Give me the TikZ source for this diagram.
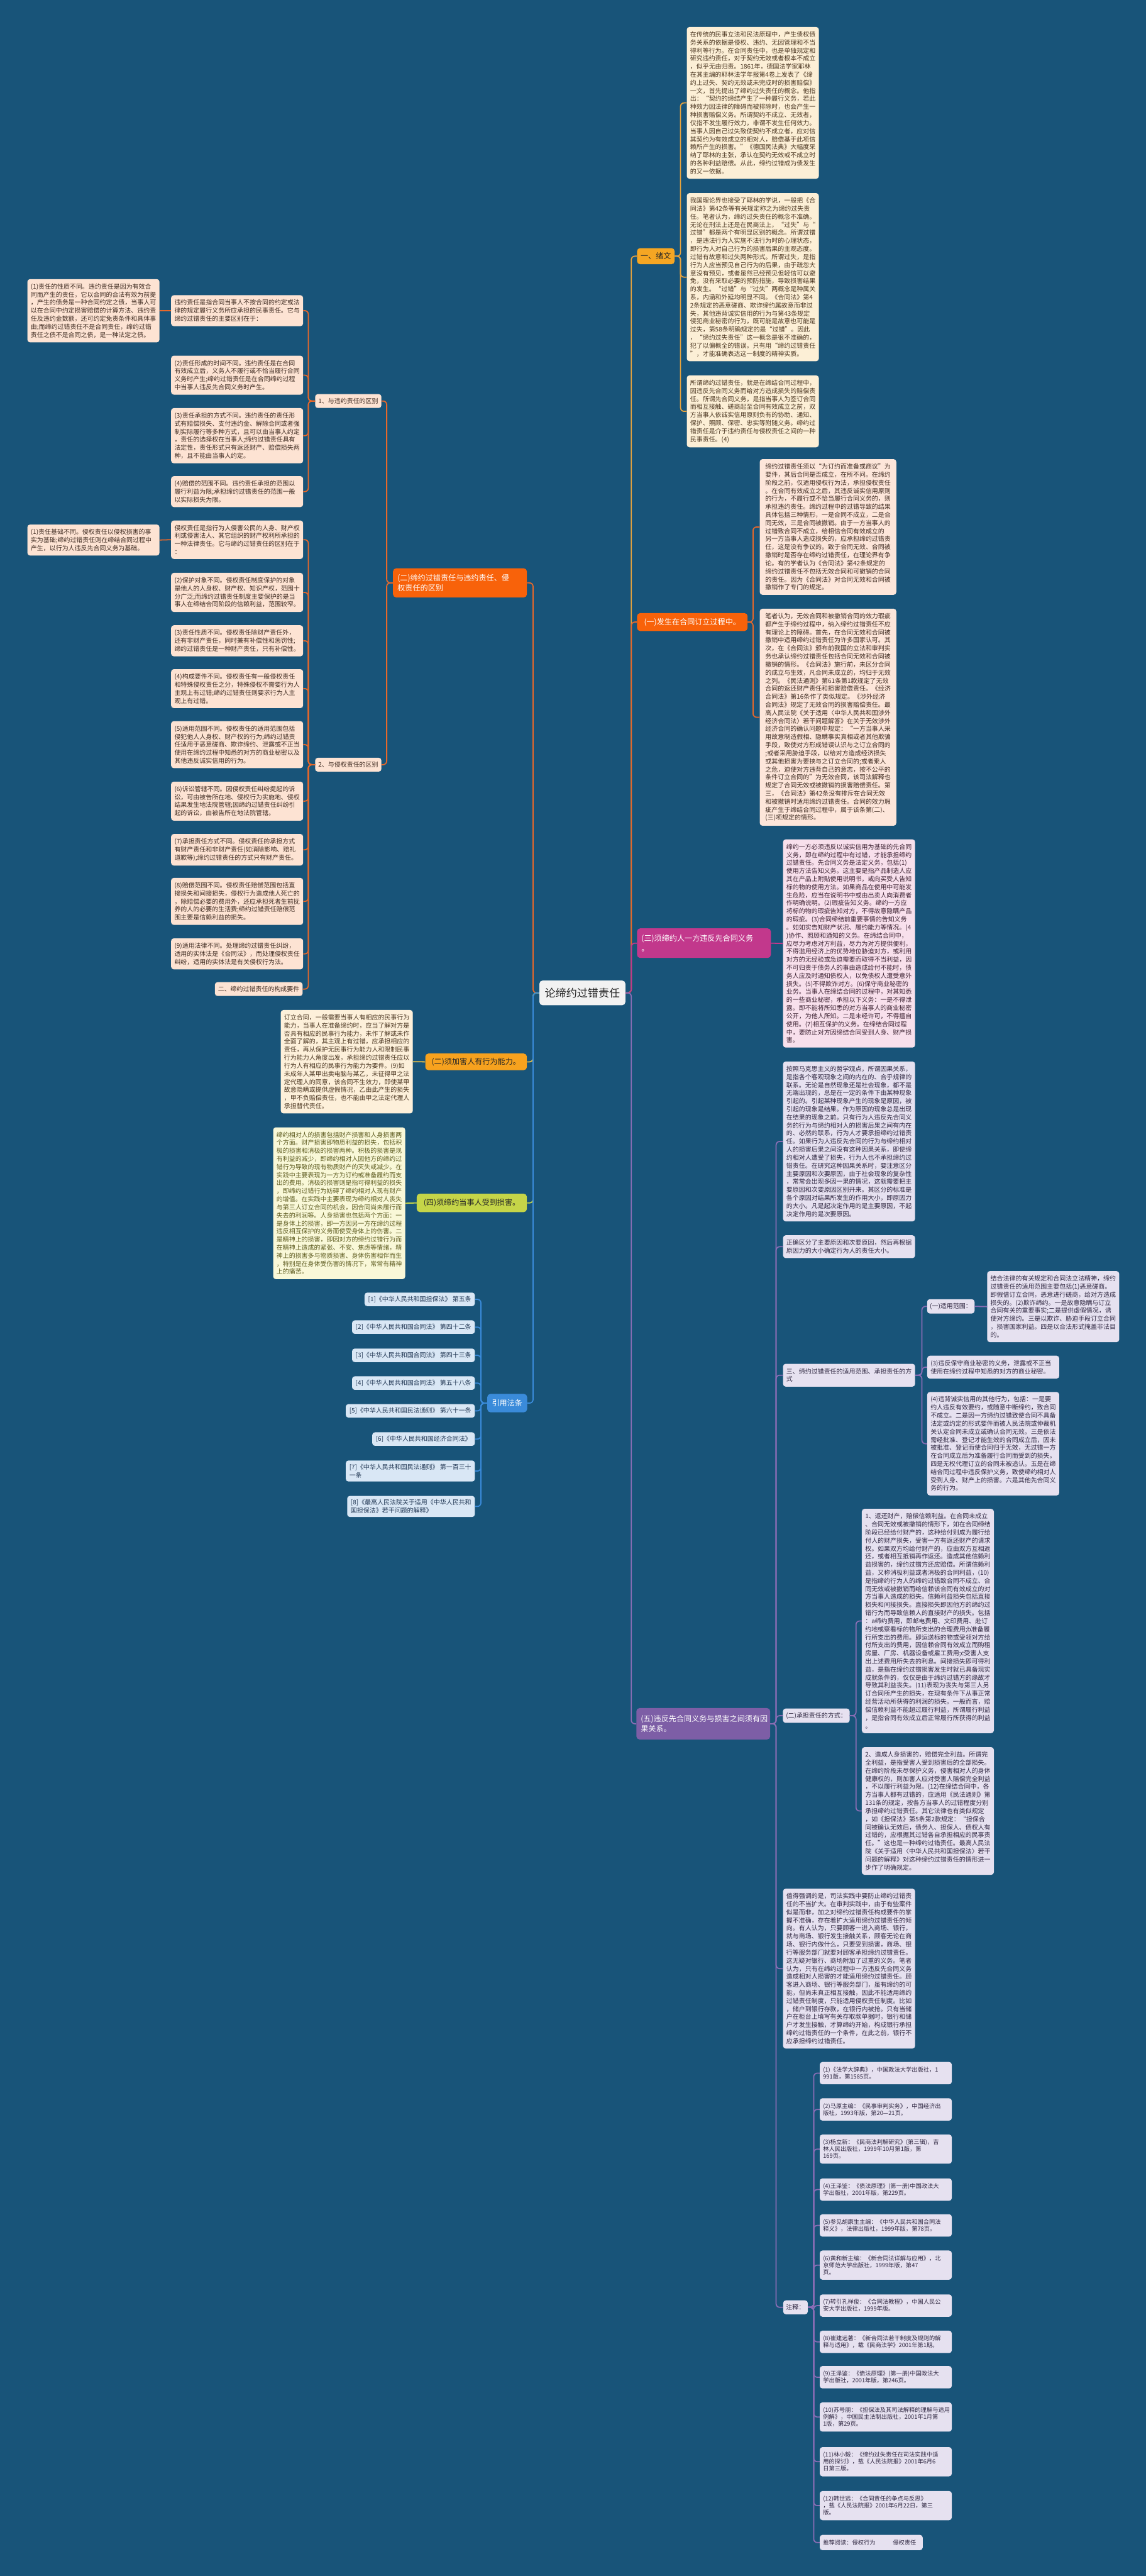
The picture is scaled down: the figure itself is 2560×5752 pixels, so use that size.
\documentclass[tikz,border=0pt]{standalone}
\usepackage{fontspec}
\setmainfont{Noto Sans CJK SC}
\usetikzlibrary{calc}
\definecolor{bg}{HTML}{185479}
\definecolor{cAf}{HTML}{F5A623}\definecolor{cAl}{HTML}{E8A33D}\definecolor{cAb}{HTML}{FCEFD6}\definecolor{cAt}{HTML}{4A3520}
\definecolor{cBf}{HTML}{F8620A}\definecolor{cBl}{HTML}{E8682A}\definecolor{cBb}{HTML}{FDE6DA}\definecolor{cBt}{HTML}{3E2A20}
\definecolor{cCf}{HTML}{C2388C}\definecolor{cCb}{HTML}{F8E0EC}\definecolor{cCt}{HTML}{3A2030}
\definecolor{cDf}{HTML}{7D5EA6}\definecolor{cDl}{HTML}{8A6DB5}\definecolor{cDb}{HTML}{E6E1F0}\definecolor{cDt}{HTML}{2E2640}
\definecolor{cEb}{HTML}{FDE3D3}
\definecolor{cFf}{HTML}{F7A21E}\definecolor{cFl}{HTML}{E3BE4A}\definecolor{cFb}{HTML}{FDF0DA}
\definecolor{cGf}{HTML}{C5D548}\definecolor{cGb}{HTML}{F9F8D8}\definecolor{cGt}{HTML}{5C5A1E}
\definecolor{cHf}{HTML}{3A8BDA}\definecolor{cHb}{HTML}{D9E7F5}\definecolor{cHt}{HTML}{1F3552}
\tikzset{
  blk/.style={anchor=north west, align=left, text width=280pt, inner xsep=7.5pt, inner ysep=10pt,
    rounded corners=6pt, font=\fontsize{14pt}{18pt}\selectfont},
  lbl/.style={align=center, inner sep=0pt, rounded corners=6pt, font=\fontsize{14pt}{17pt}\selectfont},
  brn/.style={align=center, inner sep=0pt, rounded corners=7pt, font=\fontsize{17pt}{22pt}\selectfont},
  brl/.style={align=left, inner xsep=10pt, inner ysep=0pt, rounded corners=7pt, font=\fontsize{17pt}{22pt}\selectfont},
  note/.style={anchor=north west, align=left, text width=280pt, inner xsep=7.5pt, inner ysep=11pt,
    rounded corners=6pt, font=\fontsize{13pt}{15.5pt}\selectfont, fill=cDb, text=cDt},
  law/.style={anchor=north east, align=left, inner xsep=8pt, inner ysep=8pt,
    rounded corners=6pt, font=\fontsize{14pt}{18pt}\selectfont, fill=cHb, text=cHt},
  ln/.style={line width=2.5pt, rounded corners=8pt},
  gA/.style={fill=cAb, text=cAt}, gB/.style={fill=cBb, text=cBt}, gC/.style={fill=cCb, text=cCt},
  gD/.style={fill=cDb, text=cDt}, gE/.style={fill=cEb, text=cBt}, gF/.style={fill=cFb, text=cAt},
  gG/.style={fill=cGb, text=cGt},
}
\begin{document}
\begin{tikzpicture}[x=1pt,y=-1pt]
\fill[bg] (0,0) rectangle (2560,5752);
\useasboundingbox (0,0) rectangle (2560,5752);

% central
\node[brn, fill=black!5, text=black!85, minimum width=192pt, minimum height=55pt, font=\fontsize{24pt}{28pt}\selectfont] (c) at (1301,2217) {论缔约过错责任};

% ---------------- right branches
\node[brn, fill=cAf, text=black!85, minimum width=84pt, minimum height=36pt] (xw) at (1465,572) {一、绪文};
\node[brn, fill=cBf, text=white, minimum width=247pt, minimum height=40pt] (fs) at (1546.5,1389) {(一)发生在合同订立过程中。};
\node[brl, fill=cCf, text=white, text width=279pt, minimum height=66pt] (sa) at (1572.5,2106) {(三)须缔约人一方违反先合同义务\\。};
\node[brl, fill=cDf, text=white, text width=279pt, minimum height=70pt] (wu) at (1571,3849) {(五)违反先合同义务与损害之间须有因\\果关系。};

\draw[ln, cAl] (c.east) -- ++(13,0) |- (xw.west);
\draw[ln, cBl] (c.east) -- ++(13,0) |- (fs.west);
\draw[ln, cCf] (c.east) -- ++(13,0) |- (sa.west);
\draw[ln, cDl] (c.east) -- ++(13,0) |- (wu.west);

% 绪文 children
\node[blk, gA] (xw1) at (1534,60) {在传统的民事立法和民法原理中，产生债权债\\
务关系的依据是侵权、违约、无因管理和不当\\
得利等行为。在合同责任中，也是单独规定和\\
研究违约责任，对于契约无效或者根本不成立\\
，似乎无由归责。1861年，德国法学家耶林\\
在其主编的耶林法学年报第4卷上发表了《缔\\
约上过失、契约无效或未完成时的损害赔偿》\\
一文，首先提出了缔约过失责任的概念。他指\\
出：“契约的缔结产生了一种履行义务，若此\\
种效力因法律的障碍而被排除时，也会产生一\\
种损害赔偿义务。所谓契约不成立、无效者，\\
仅指不发生履行效力，非谓不发生任何效力。\\
当事人因自己过失致使契约不成立者，应对信\\
其契约为有效成立的相对人，赔偿基于此项信\\
赖所产生的损害。”《德国民法典》大幅度采\\
纳了耶林的主张，承认在契约无效或不成立时\\
的各种利益赔偿。从此，缔约过错成为债发生\\
的又一依据。};
\node[blk, gA] (xw2) at (1534,431) {我国理论界也接受了耶林的学说，一般把《合\\
同法》第42条等有关规定称之为缔约过失责\\
任。笔者认为，缔约过失责任的概念不准确。\\
无论在刑法上还是在民商法上，“过失”与“\\
过错”都是两个有明显区别的概念。所谓过错\\
，是违法行为人实施不法行为时的心理状态，\\
即行为人对自己行为的损害后果的主观态度。\\
过错有故意和过失两种形式。所谓过失，是指\\
行为人应当预见自己行为的后果，由于疏忽大\\
意没有预见，或者虽然已经预见但轻信可以避\\
免，没有采取必要的预防措施，导致损害结果\\
的发生。“过错”与“过失”两概念是种属关\\
系，内涵和外延均明显不同。《合同法》第4\\
2条规定的恶意磋商、欺诈缔约属故意而非过\\
失，其他违背诚实信用的行为与第43条规定\\
侵犯商业秘密的行为，既可能是故意也可能是\\
过失，第58条明确规定的是“过错”。因此\\
，“缔约过失责任”这一概念是很不准确的，\\
犯了以偏概全的错误。只有用“缔约过错责任\\
”，才能准确表达这一制度的精神实质。};
\node[blk, gA] (xw3) at (1534,838) {所谓缔约过错责任，就是在缔结合同过程中，\\
因违反先合同义务而给对方造成损失的赔偿责\\
任。所谓先合同义务，是指当事人为签订合同\\
而相互接触、磋商起至合同有效成立之前，双\\
方当事人依诚实信用原则负有的协助、通知、\\
保护、照顾、保密、忠实等附随义务。缔约过\\
错责任是介于违约责任与侵权责任之间的一种\\
民事责任。(4)};
\foreach \n in {xw1,xw2,xw3} \draw[ln, cAl] (xw.east) -- ++(13,0) |- (\n.west);

% 发生 children
\node[blk, gB, inner xsep=12.5pt] (fs1) at (1697,1025) {缔约过错责任须以“为订约而准备或商议”为\\
要件，其后合同是否成立，在所不问。在缔约\\
阶段之前，仅适用侵权行为法，承担侵权责任\\
。在合同有效成立之后，其违反诚实信用原则\\
的行为，不履行或不恰当履行合同义务的，则\\
承担违约责任。缔约过程中的过错导致的结果\\
具体包括三种情形，一是合同不成立，二是合\\
同无效，三是合同被撤销。由于一方当事人的\\
过错致合同不成立，给相信合同有效成立的\\
另一方当事人造成损失的，应承担缔约过错责\\
任，这是没有争议的。致于合同无效、合同被\\
撤销时是否存在缔约过错责任，在理论界有争\\
论。有的学者认为《合同法》第42条规定的\\
缔约过错责任不包括无效合同和可撤销的合同\\
的责任。因为《合同法》对合同无效和合同被\\
撤销作了专门的规定。};
\node[blk, gB, inner xsep=12.5pt] (fs2) at (1697,1359) {笔者认为，无效合同和被撤销合同的效力瑕疵\\
都产生于缔约过程中，纳入缔约过错责任不应\\
有理论上的障碍。首先，在合同无效和合同被\\
撤销中适用缔约过错责任为许多国家认可。其\\
次，在《合同法》颁布前我国的立法和审判实\\
务也承认缔约过错责任包括合同无效和合同被\\
撤销的情形。《合同法》施行前，未区分合同\\
的成立与生效，凡合同未成立的，均归于无效\\
之列。《民法通则》第61条第1款规定了无效\\
合同的返还财产责任和损害赔偿责任。《经济\\
合同法》第16条作了类似规定。《涉外经济\\
合同法》规定了无效合同的损害赔偿责任。最\\
高人民法院《关于适用〈中华人民共和国涉外\\
经济合同法〉若干问题解答》在关于无效涉外\\
经济合同的确认问题中规定：“一方当事人采\\
用故意制造假相、隐瞒事实真相或者其他欺骗\\
手段，致使对方形成错误认识与之订立合同的\\
;或者采用胁迫手段，以给对方造成经济损失\\
或其他损害为要挟与之订立合同的;或者乘人\\
之危，迫使对方违背自己的意志，按不公平的\\
条件订立合同的”为无效合同，该司法解释也\\
规定了合同无效或被撤销的损害赔偿责任。第\\
三，《合同法》第42条没有排斥在合同无效\\
和被撤销时适用缔约过错责任。合同的效力瑕\\
疵产生于缔结合同过程中，属于该条第(二)、\\
(三)项规定的情形。};
\foreach \n in {fs1,fs2} \draw[ln, cBl] (fs.east) -- ++(12,0) |- (\n.west);

% (三) child
\node[blk, gC] (sa1) at (1749,1874) {缔约一方必须违反以诚实信用为基础的先合同\\
义务，即在缔约过程中有过错，才能承担缔约\\
过错责任。先合同义务是法定义务，包括(1)\\
使用方法告知义务。这主要是指产品制造人应\\
其在产品上附贴使用说明书，或向买受人告知\\
标的物的使用方法。如果商品在使用中可能发\\
生危险，应当在说明书中或由出卖人向消费者\\
作明确说明。(2)瑕疵告知义务。缔约一方应\\
将标的物的瑕疵告知对方，不得故意隐瞒产品\\
的瑕疵。(3)合同缔结前重要事情的告知义务\\
。如如实告知财产状况、履约能力等情况。(4\\
)协作、照顾和通知的义务。在缔结合同中，\\
应尽力考虑对方利益，尽力为对方提供便利，\\
不得滥用经济上的优势地位胁迫对方，或利用\\
对方的无经验或急迫需要而取得不当利益，因\\
不可归责于债务人的事由造成给付不能时，债\\
务人应及时通知债权人，以免债权人遭受意外\\
损失。(5)不得欺诈对方。(6)保守商业秘密的\\
业务。当事人在缔结合同的过程中，对其知悉\\
的一些商业秘密，承担以下义务：一是不得泄\\
露。即不能将所知悉的对方当事人的商业秘密\\
公开，为他人所知。二是未经许可，不得擅自\\
使用。(7)相互保护的义务。在缔结合同过程\\
中，要防止对方因缔结合同受到人身、财产损\\
害。};
\draw[ln, cCf] (sa.east) -- (sa1.west);

% (五) children
\node[blk, gD] (w1) at (1749,2370) {按照马克思主义的哲学观点，所谓因果关系，\\
是指各个客观现象之间的内在的、合乎规律的\\
联系。无论是自然现象还是社会现象，都不是\\
无端出现的，总是在一定的条件下由某种现象\\
引起的。引起某种现象产生的现象是原因，被\\
引起的现象是结果。作为原因的现象总是出现\\
在结果的现象之前。只有行为人违反先合同义\\
务的行为与缔约相对人的损害后果之间有内在\\
的、必然的联系，行为人才要承担缔约过错责\\
任。如果行为人违反先合同的行为与缔约相对\\
人的损害后果之间没有这种因果关系，即使缔\\
约相对人遭受了损失，行为人也不承担缔约过\\
错责任。在研究这种因果关系时，要注意区分\\
主要原因和次要原因，由于社会现象的复杂性\\
，常常会出现多因一果的情况，这就需要把主\\
要原因和次要原因区别开来。其区分的标准是\\
各个原因对结果所发生的作用大小，即原因力\\
的大小。凡是起决定作用的是主要原因，不起\\
决定作用的是次要原因。};
\node[blk, gD] (w2) at (1749,2758) {正确区分了主要原因和次要原因，然后再根据\\
原因力的大小确定行为人的责任大小。};
\node[blk, gD] (w3) at (1749,3045) {三、缔约过错责任的适用范围、承担责任的方\\
式};
\node[lbl, gD, minimum width=106pt, minimum height=32pt] (s1) at (2124,2917) {(一)适用范围：};
\node[blk, gD] (s1a) at (2205,2838) {结合法律的有关规定和合同法立法精神，缔约\\
过错责任的适用范围主要包括(1)恶意磋商。\\
即假借订立合同，恶意进行磋商，给对方造成\\
损失的。(2)欺诈缔约。一是故意隐瞒与订立\\
合同有关的重要事实;二是提供虚假情况，诱\\
使对方缔约。三是以欺诈、胁迫手段订立合同\\
，损害国家利益。四是以合法形式掩盖非法目\\
的。};
\node[blk, gD] (s2) at (2071,3027) {(3)违反保守商业秘密的义务，泄露或不正当\\
使用在缔约过程中知悉的对方的商业秘密。};
\node[blk, gD] (s3) at (2071,3108) {(4)违背诚实信用的其他行为，包括：一是要\\
约人违反有效要约，或随意中断缔约，致合同\\
不成立。二是因一方缔约过错致使合同不具备\\
法定或约定的形式要件而被人民法院或仲裁机\\
关认定合同未成立或确认合同无效。三是依法\\
需经批准、登记才能生效的合同成立后，因未\\
被批准、登记而使合同归于无效，无过错一方\\
在合同成立后为准备履行合同而受到的损失。\\
四是无权代理订立的合同未被追认。五是在缔\\
结合同过程中违反保护义务，致使缔约相对人\\
受到人身、财产上的损害。六是其他先合同义\\
务的行为。};
\node[lbl, gD, minimum width=149pt, minimum height=32pt] (w4) at (1823.5,3831) {(二)承担责任的方式：};
\node[blk, gD] (c1) at (1925,3369) {1、返还财产，赔偿信赖利益。在合同未成立\\
、合同无效或被撤销的情形下，如在合同缔结\\
阶段已经给付财产的，这种给付则成为履行给\\
付人的财产损失，受害一方有返还财产的请求\\
权。如果双方均给付财产的，应由双方互相返\\
还，或者相互抵销再作返还。造成其他信赖利\\
益损害的，缔约过错方还应赔偿。所谓信赖利\\
益，又称消极利益或者消极的合同利益，(10)\\
是指缔约行为人的缔约过错致合同不成立、合\\
同无效或被撤销而给信赖该合同有效成立的对\\
方当事人造成的损失。信赖利益损失包括直接\\
损失和间接损失。直接损失即因他方的缔约过\\
错行为而导致信赖人的直接财产的损失。包括\\
：a缔约费用，即邮电费用、文印费用、赴订\\
约地或察看标的物所支出的合理费用;b准备履\\
行所支出的费用。即运送标的物或受领对方给\\
付所支出的费用，因信赖合同有效成立而购租\\
房屋、厂房、机器设备或雇工费用;c受害人支\\
出上述费用所失去的利息。间接损失即可得利\\
益，是指在缔约过错损害发生时就已具备现实\\
成就条件的，仅仅是由于缔约过错方的缘故才\\
导致其利益丧失。(11)表现为丧失与第三人另\\
订合同所产生的损失，在现有条件下从事正常\\
经营活动所获得的利润的损失。一般而言，赔\\
偿信赖利益不能超过履行利益，所谓履行利益\\
，是指合同有效成立后正常履行所获得的利益\\
。};
\node[blk, gD] (c2) at (1925,3901) {2、造成人身损害的，赔偿完全利益。所谓完\\
全利益，是指受害人受到损害后的全部损失。\\
在缔约阶段未尽保护义务，侵害相对人的身体\\
健康权的，则加害人应对受害人赔偿完全利益\\
，不以履行利益为限。(12)在缔结合同中，各\\
方当事人都有过错的，应适用《民法通则》第\\
131条的规定，按各方当事人的过错程度分别\\
承担缔约过错责任。其它法律也有类似规定\\
，如《担保法》第5条第2款规定：“担保合\\
同被确认无效后，债务人、担保人、债权人有\\
过错的，应根据其过错各自承担相应的民事责\\
任。”这也是一种缔约过错责任。最高人民法\\
院《关于适用〈中华人民共和国担保法〉若干\\
问题的解释》对这种缔约过错责任的情形进一\\
步作了明确规定。};
\node[blk, gD] (w5) at (1749,4217) {值得强调的是，司法实践中要防止缔约过错责\\
任的不当扩大。在审判实践中，由于有些案件\\
似是而非，加之对缔约过错责任构成要件的掌\\
握不准确，存在着扩大适用缔约过错责任的倾\\
向。有人认为，只要顾客一进入商场、银行，\\
就与商场、银行发生接触关系，顾客无论在商\\
场、银行内做什么，只要受到损害，商场、银\\
行等服务部门就要对顾客承担缔约过错责任。\\
这无疑对银行、商场附加了过重的义务。笔者\\
认为，只有在缔约过程中一方违反先合同义务\\
造成相对人损害的才能适用缔约过错责任。顾\\
客进入商场、银行等服务部门，虽有缔约的可\\
能，但尚未真正相互接触，因此不能适用缔约\\
过错责任制度，只能适用侵权责任制度。比如\\
，储户到银行存款，在银行内被抢。只有当储\\
户在柜台上填写有关存取款单据时，银行和储\\
户才发生接触，才算缔约开始，构成银行承担\\
缔约过错责任的一个条件，在此之前，银行不\\
应承担缔约过错责任。};
\node[lbl, gD, minimum width=55pt, minimum height=31pt] (w6) at (1777,5152) {注释：};
\foreach \n in {w1,w2,w3,w4,w5,w6} \draw[ln, cDl] (wu.east) -- ++(13,0) |- (\n.west);
\foreach \n in {s1,s2,s3} \draw[ln, cDl] (w3.east) -- ++(15,0) |- (\n.west);
\draw[ln, cDl] (s1.east) -- (s1a.west);
\foreach \n in {c1,c2} \draw[ln, cDl] (w4.east) -- ++(14,0) |- (\n.west);

% notes
\node[note] (n1) at (1831,4604) {(1)《法学大辞典》，中国政法大学出版社，1\\991版，第1585页。};
\node[note] (n2) at (1831,4685) {(2)马原主编：《民事审判实务》，中国经济出\\版社，1993年版，第20—21页。};
\node[note] (n3) at (1831,4766) {(3)杨立新：《民商法判解研究》(第三辑)，吉\\林人民出版社，1999年10月第1版，第\\169页。};
\node[note] (n4) at (1831,4864) {(4)王泽鉴：《债法原理》(第一册)中国政法大\\学出版社，2001年版，第229页。};
\node[note] (n5) at (1831,4944) {(5)参见胡康生主编：《中华人民共和国合同法\\释义》，法律出版社，1999年版，第78页。};
\node[note] (n6) at (1831,5025) {(6)黄和新主编：《新合同法详解与应用》，北\\京师范大学出版社，1999年版，第47\\页。};
\node[note] (n7) at (1831,5123) {(7)转引孔祥俊：《合同法教程》，中国人民公\\安大学出版社，1999年版。};
\node[note] (n8) at (1831,5204) {(8)崔建远著：《新合同法若干制度及规则的解\\释与适用》，载《民商法学》2001年第1期。};
\node[note] (n9) at (1831,5283) {(9)王泽鉴：《债法原理》(第一册)中国政法大\\学出版社，2001年版，第246页。};
\node[note] (n10) at (1831,5364) {(10)苏号朋：《担保法及其司法解释的理解与适用\\例解》，中国民主法制出版社，2001年1月第\\1版，第29页。};
\node[note] (n11) at (1831,5464) {(11)林小毅：《缔约过失责任在司法实践中适\\用的探讨》，载《人民法院报》2001年6月6\\日第三版。};
\node[note] (n12) at (1831,5562) {(12)韩世远：《合同责任的争点与反思》\\，载《人民法院报》2001年6月22日，第三\\版。};
\node[note, text width=215pt] (n13) at (1831,5660) {推荐阅读：侵权行为\hspace{3em}侵权责任};
\foreach \n in {n1,n2,n3,n4,n5,n6,n7,n8,n9,n10,n11,n12,n13} \draw[ln, cDl] (w6.east) -- ++(13,0) |- (\n.west);

% ---------------- left branches
\node[brl, fill=cBf, text=white, text width=279pt, minimum height=65pt] (qb) at (1027.5,1301.5) {(二)缔约过错责任与违约责任、侵\\权责任的区别};
\node[brn, fill=cFf, text=black!85, minimum width=227pt, minimum height=37pt] (jh) at (1063.5,2371) {(二)须加害人有行为能力。};
\node[brn, fill=cGf, text=black!85, minimum width=246pt, minimum height=41pt] (ss) at (1054,2686) {(四)须缔约当事人受到损害。};
\node[brn, fill=cHf, text=white, minimum width=89pt, minimum height=41pt] (yf) at (1133,3133) {引用法条};

\draw[ln, cBl] (c.west) -- ++(-14,0) |- (qb.east);
\draw[ln, cFl] (c.west) -- ++(-14,0) |- (jh.east);
\draw[ln, cGf] (c.west) -- ++(-14,0) |- (ss.east);
\draw[ln, cHf] (c.west) -- ++(-14,0) |- (yf.east);

\node[lbl, gE, minimum width=148pt, minimum height=31pt] (q1) at (778,895.5) {1、与违约责任的区别};
\node[lbl, gE, minimum width=148pt, minimum height=31pt] (q2) at (778,1707.5) {2、与侵权责任的区别};
\foreach \n in {q1,q2} \draw[ln, cBl] (qb.west) -- ++(-14,0) |- (\n.east);

\node[blk, gE] (a0) at (382,659) {违约责任是指合同当事人不按合同的约定或法\\
律的规定履行义务所应承担的民事责任。它与\\
缔约过错责任的主要区别在于：};
\node[blk, gE] (a1) at (61,623) {(1)责任的性质不同。违约责任是因为有效合\\
同而产生的责任，它以合同的合法有效为前提\\
，产生的债务是一种合同约定之债，当事人可\\
以在合同中约定损害赔偿的计算方法、违约责\\
任及违约金数额，还可约定免责条件和具体事\\
由;而缔约过错责任不是合同责任，缔约过错\\
责任之债不是合同之债，是一种法定之债。};
\node[blk, gE] (a2) at (382,794) {(2)责任形成的时间不同。违约责任是在合同\\
有效成立后，义务人不履行或不恰当履行合同\\
义务时产生;缔约过错责任是在合同缔约过程\\
中当事人违反先合同义务时产生。};
\node[blk, gE] (a3) at (382,911) {(3)责任承担的方式不同。违约责任的责任形\\
式有赔偿损失、支付违约金、解除合同或者强\\
制实际履行等多种方式，且可以由当事人约定\\
，责任的选择权在当事人;缔约过错责任具有\\
法定性，责任形式只有返还财产、赔偿损失两\\
种，且不能由当事人约定。};
\node[blk, gE] (a4) at (382,1063) {(4)赔偿的范围不同。违约责任承担的范围以\\
履行利益为限;承担缔约过错责任的范围一般\\
以实际损失为限。};
\foreach \n in {a0,a2,a3,a4} \draw[ln, cBl] (q1.west) -- ++(-15,0) |- (\n.east);
\draw[ln, cBl] (a0.west) -- (a1.east);

\node[blk, gE] (b0) at (382,1162) {侵权责任是指行为人侵害公民的人身、财产权\\
利或侵害法人、其它组织的财产权利所承担的\\
一种法律责任。它与缔约过错责任的区别在于\\
：};
\node[blk, gE] (b1) at (61,1171) {(1)责任基础不同。侵权责任以侵权损害的事\\
实为基础;缔约过错责任则在缔结合同过程中\\
产生，以行为人违反先合同义务为基础。};
\node[blk, gE] (b2) at (382,1279) {(2)保护对象不同。侵权责任制度保护的对象\\
是他人的人身权、财产权、知识产权，范围十\\
分广泛;而缔约过错责任制度主要保护的是当\\
事人在缔结合同阶段的信赖利益，范围较窄。};
\node[blk, gE] (b3) at (382,1396) {(3)责任性质不同。侵权责任除财产责任外，\\
还有非财产责任，同时兼有补偿性和惩罚性;\\
缔约过错责任是一种财产责任，只有补偿性。};
\node[blk, gE] (b4) at (382,1494) {(4)构成要件不同。侵权责任有一般侵权责任\\
和特殊侵权责任之分，特殊侵权不需要行为人\\
主观上有过错;缔约过错责任则要求行为人主\\
观上有过错。};
\node[blk, gE] (b5) at (382,1610) {(5)适用范围不同。侵权责任的适用范围包括\\
侵犯他人人身权、财产权的行为;缔约过错责\\
任适用于恶意磋商、欺诈缔约、泄露或不正当\\
使用在缔约过程中知悉的对方的商业秘密以及\\
其他违反诚实信用的行为。};
\node[blk, gE] (b6) at (382,1745) {(6)诉讼管辖不同。因侵权责任纠纷提起的诉\\
讼，可由被告所在地、侵权行为实施地、侵权\\
结果发生地法院管辖;因缔约过错责任纠纷引\\
起的诉讼，由被告所在地法院管辖。};
\node[blk, gE] (b7) at (382,1862) {(7)承担责任方式不同。侵权责任的承担方式\\
有财产责任和非财产责任(如消除影响、赔礼\\
道歉等);缔约过错责任的方式只有财产责任。};
\node[blk, gE] (b8) at (382,1960) {(8)赔偿范围不同。侵权责任赔偿范围包括直\\
接损失和间接损失，侵权行为造成他人死亡的\\
，除赔偿必要的费用外，还应承担死者生前抚\\
养的人的必要的生活费;缔约过错责任赔偿范\\
围主要是信赖利益的损失。};
\node[blk, gE] (b9) at (382,2095) {(9)适用法律不同。处理缔约过错责任纠纷，\\
适用的实体法是《合同法》，而处理侵权责任\\
纠纷，适用的实体法是有关侵权行为法。};
\node[lbl, gE, minimum width=196pt, minimum height=31pt] (b10) at (578,2208.5) {二、缔约过错责任的构成要件};
\foreach \n in {b0,b2,b3,b4,b5,b6,b7,b8,b9,b10} \draw[ln, cBl] (q2.west) -- ++(-15,0) |- (\n.east);
\draw[ln, cBl] (b0.west) -- (b1.east);

\node[blk, gF] (jh1) at (627,2255) {订立合同，一般需要当事人有相应的民事行为\\
能力，当事人在准备缔约时，应当了解对方是\\
否具有相应的民事行为能力，未作了解或未作\\
全面了解的，其主观上有过错，应承担相应的\\
责任，再从保护无民事行为能力人和限制民事\\
行为能力人角度出发，承担缔约过错责任应以\\
行为人有相应的民事行为能力为要件。(9)如\\
未成年人某甲出卖电脑与某乙，未征得甲之法\\
定代理人的同意，该合同不生效力，即使某甲\\
故意隐瞒或提供虚假情况，乙由此产生的损失\\
，甲不负赔偿责任，也不能由甲之法定代理人\\
承担替代责任。};
\draw[ln, cFl] (jh.west) -- (jh1.east);

\node[blk, gG] (ss1) at (610,2517) {缔约相对人的损害包括财产损害和人身损害两\\
个方面。财产损害即物质利益的损失，包括积\\
极的损害和消极的损害两种。积极的损害是现\\
有利益的减少，即缔约相对人因他方的缔约过\\
错行为导致的现有物质财产的灭失或减少。在\\
实践中主要表现为一方为订约或准备履约而支\\
出的费用。消极的损害则是指可得利益的损失\\
，即缔约过错行为妨碍了缔约相对人现有财产\\
的增值。在实践中主要表现为缔约相对人丧失\\
与第三人订立合同的机会，因合同尚未履行而\\
失去的利润等。人身损害也包括两个方面：一\\
是身体上的损害，即一方因另一方在缔约过程\\
违反相互保护的义务而使受身体上的伤害。二\\
是精神上的损害，即因对方的缔约过错行为而\\
在精神上造成的紧张、不安、焦虑等情绪，精\\
神上的损害多与物质损害、身体伤害相伴而生\\
，特别是在身体受伤害的情况下，常常有精神\\
上的痛苦。};
\draw[ln, cGf] (ss.west) -- (ss1.east);

\node[law] (l1) at (1061,2886) {[1]《中华人民共和国担保法》 第五条};
\node[law] (l2) at (1061,2948) {[2]《中华人民共和国合同法》 第四十二条};
\node[law] (l3) at (1061,3011) {[3]《中华人民共和国合同法》 第四十三条};
\node[law] (l4) at (1061,3073) {[4]《中华人民共和国合同法》 第五十八条};
\node[law] (l5) at (1061,3135) {[5]《中华人民共和国民法通则》 第六十一条};
\node[law] (l6) at (1061,3198) {[6]《中华人民共和国经济合同法》};
\node[law] (l7) at (1061,3261) {[7]《中华人民共和国民法通则》 第一百三十\\一条};
\node[law] (l8) at (1061,3340) {[8]《最高人民法院关于适用《中华人民共和\\国担保法》若干问题的解释》};
\foreach \n in {l1,l2,l3,l4,l5,l6,l7,l8} \draw[ln, cHf] (yf.west) -- ++(-14,0) |- (\n.east);
\end{tikzpicture}
\end{document}
